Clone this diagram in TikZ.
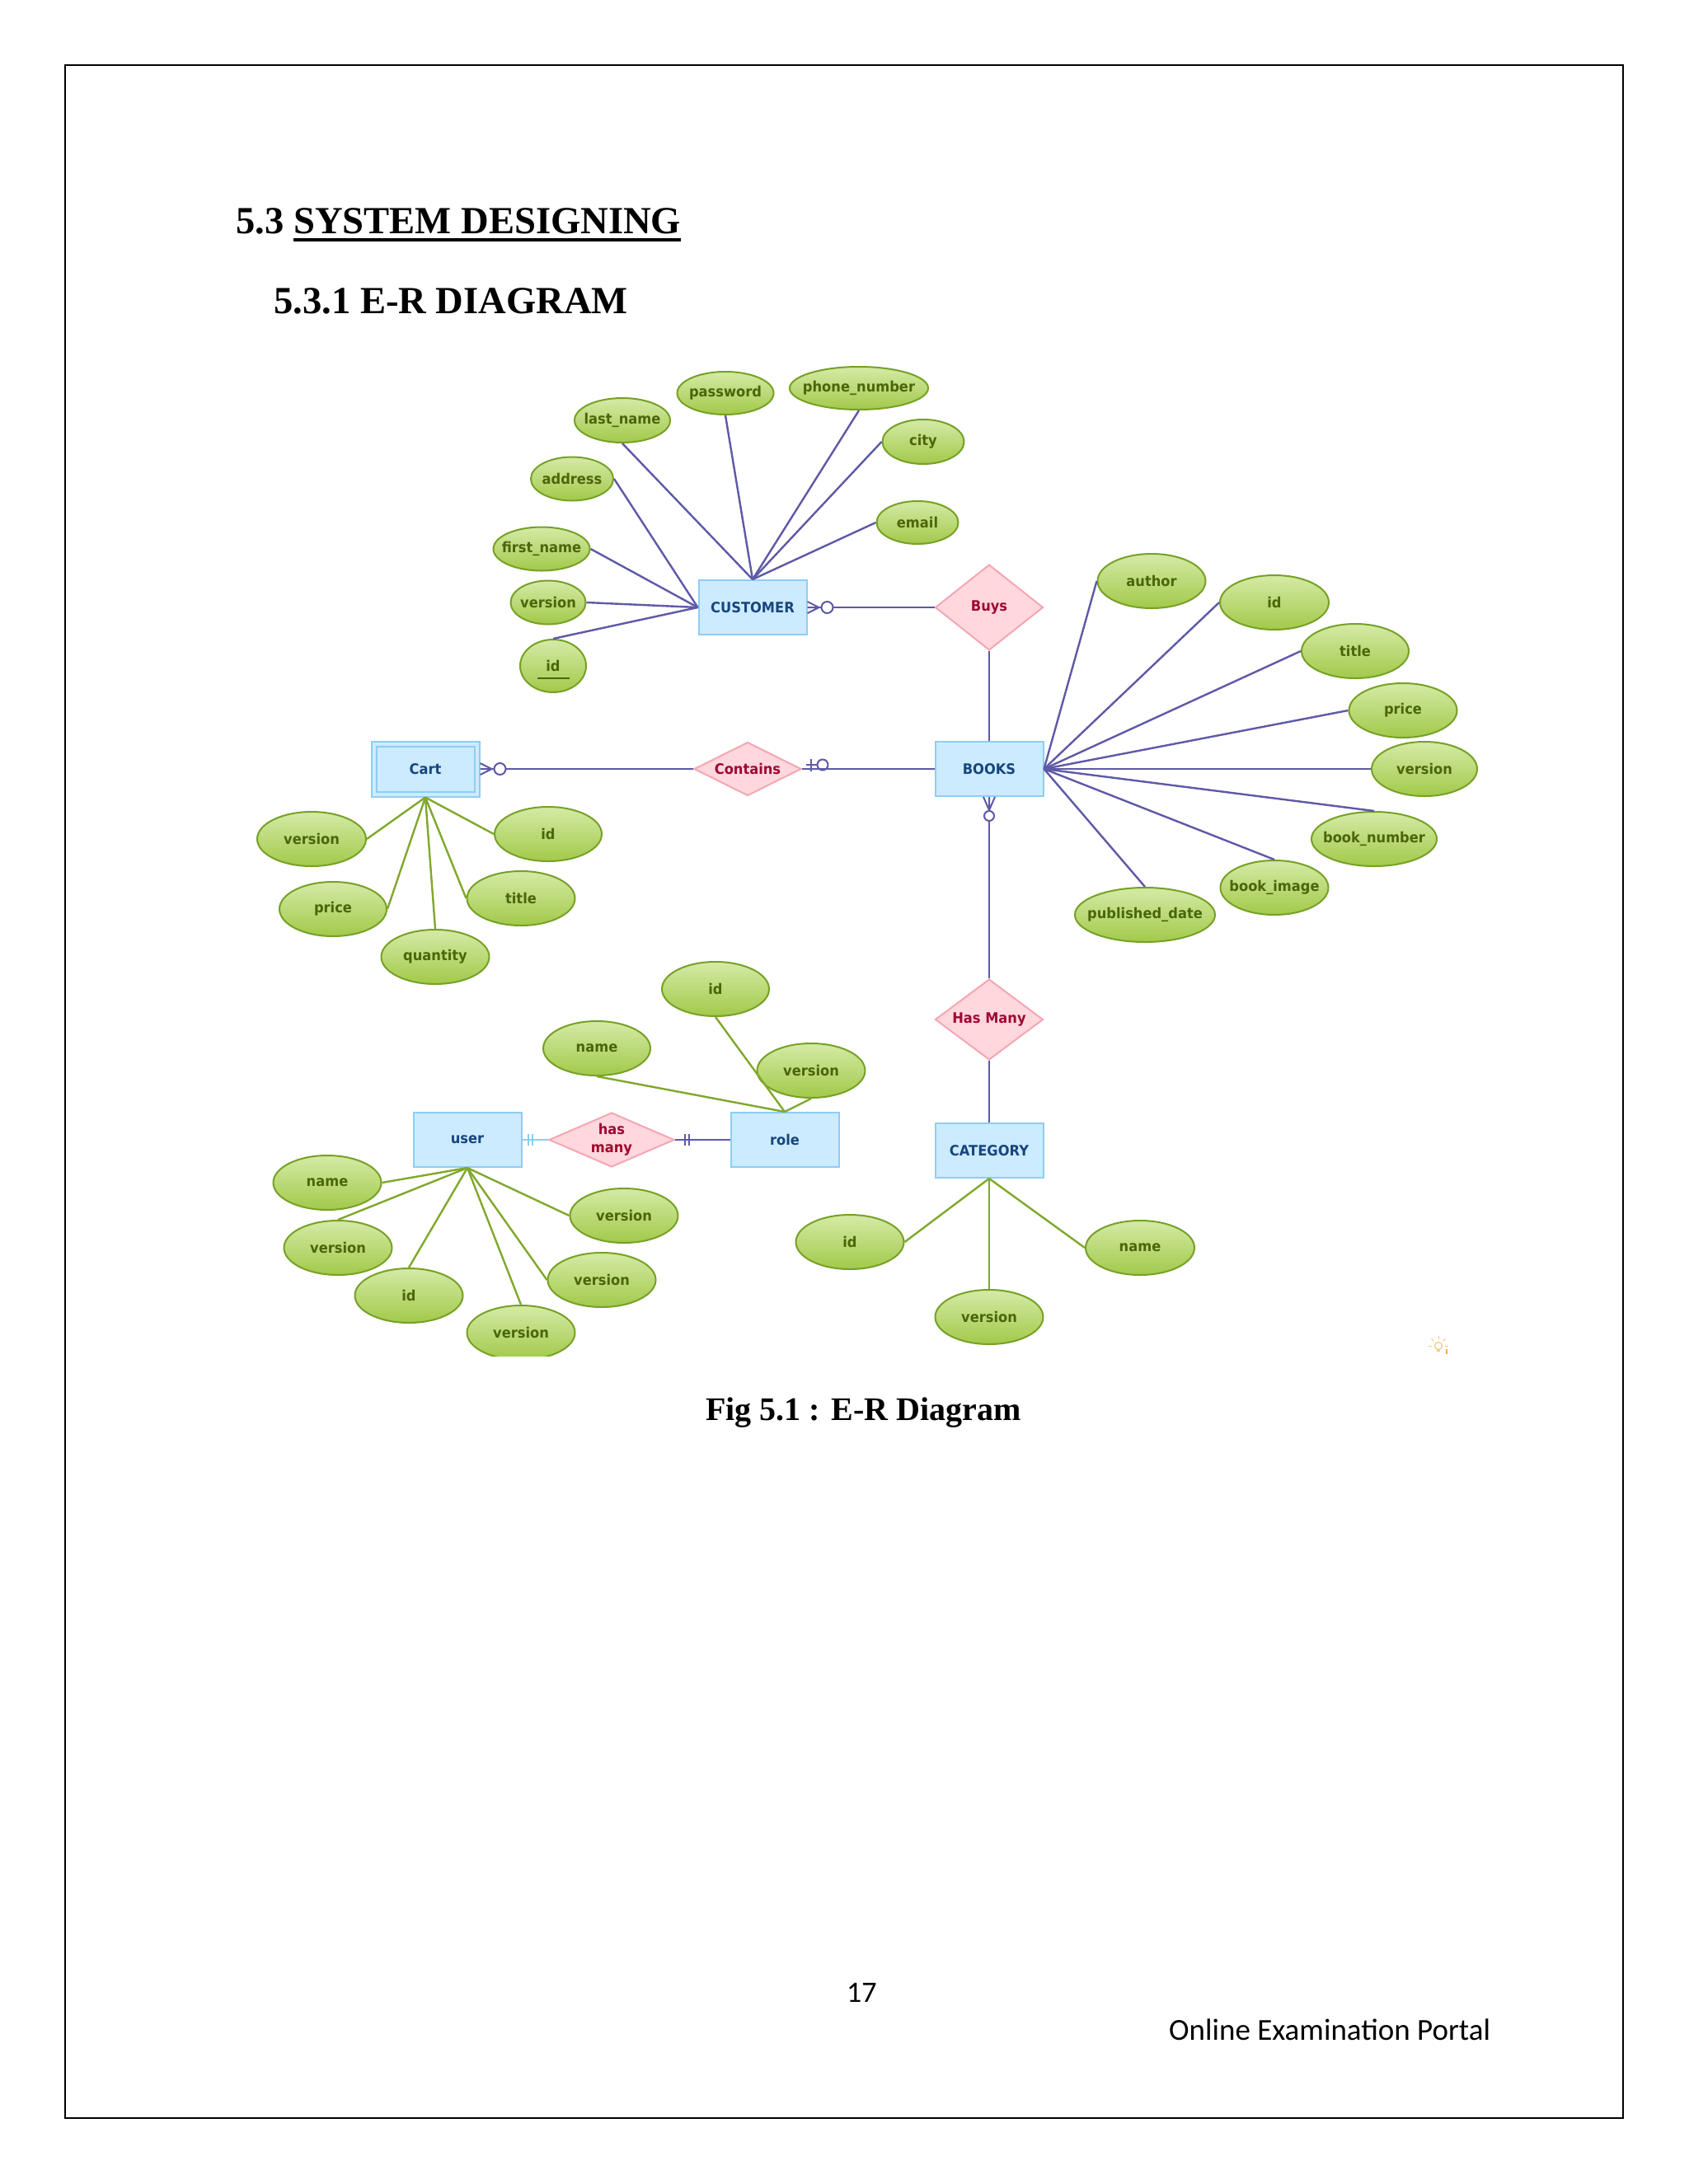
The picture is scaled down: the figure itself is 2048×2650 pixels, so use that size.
\documentclass[tikz,border=0pt]{standalone}
\usepackage{fontspec}
\setmainfont{Liberation Serif}
\newfontfamily\erfont[FakeStretch=0.93]{DejaVu Sans}
\newfontfamily\calfont{Carlito}
\usetikzlibrary{shapes.geometric,calc}
\definecolor{entF}{HTML}{CDEBFF}
\definecolor{entB}{HTML}{8ECDF6}
\definecolor{entT}{HTML}{16467E}
\definecolor{relF}{HTML}{FFD7DD}
\definecolor{relB}{HTML}{F4A7B3}
\definecolor{relT}{HTML}{A0062E}
\definecolor{attTop}{HTML}{D5EAA6}
\definecolor{attBot}{HTML}{A2C94A}
\definecolor{attB}{HTML}{76A125}
\definecolor{attT}{HTML}{4C650A}
\definecolor{purp}{HTML}{5E59A6}
\definecolor{grn}{HTML}{80A82C}
\definecolor{bulbc}{HTML}{F7C77A}
\begin{document}
\begin{tikzpicture}[x=1pt,y=-1pt,
  ent/.style={rectangle, draw=entB, fill=entF, line width=2pt, minimum width=131pt, minimum height=66pt, inner sep=0pt, text=entT, font=\erfont\bfseries\fontsize{17.5pt}{20pt}\selectfont},
  rel/.style={diamond, draw=relB, fill=relF, line width=2pt, inner sep=0pt},
  reltxt/.style={text=relT, font=\erfont\bfseries\fontsize{17.5pt}{22pt}\selectfont, align=center, inner sep=0pt},
  attr/.style={ellipse, draw=attB, line width=2pt, top color=attTop, bottom color=attBot, inner sep=0pt, minimum width=131pt, minimum height=66pt},
  atxt/.style={text=attT, font=\erfont\bfseries\fontsize{17.5pt}{20pt}\selectfont, inner sep=0pt},
  pline/.style={draw=purp, line width=2.4pt},
  gline/.style={draw=grn, line width=2.4pt},
  heading/.style={inner sep=0pt, anchor=base west, font=\bfseries\fontsize{46.6pt}{50pt}\selectfont},
]
\useasboundingbox (0,0) rectangle (2048,2650);
\fill[white] (0,0) rectangle (2048,2650);
\draw[line width=2pt] (79,79) rectangle (1969,2570);

% headings
\node[heading] (h1a) at (286,283) {5.3};
\node[heading] (h1b) at (356,283) {SYSTEM DESIGNING};
\draw[line width=4pt] ($(h1b.base west)+(0,8)$) -- ($(h1b.base east)+(0,8)$);
\node[heading] (h2) at (332,380) {5.3.1 E-R DIAGRAM};

\begin{scope}
\clip (240,400) rectangle (1793,1645);

% ---------- CUSTOMER ----------
\node[ent] (cust) at (913,737) {CUSTOMER};
\node[attr, minimum width=117pt, minimum height=52pt, label={[atxt]center:password}] (cpw) at (880,477) {};
\node[attr, minimum width=168pt, minimum height=52pt, label={[atxt]center:phone\_number}] (cph) at (1042,471) {};
\node[attr, minimum width=116pt, minimum height=54pt, label={[atxt]center:last\_name}] (cln) at (755,510) {};
\node[attr, minimum width=99pt, minimum height=54pt, label={[atxt]center:city}] (ccity) at (1120,536) {};
\node[attr, minimum width=100pt, minimum height=53pt, label={[atxt]center:address}] (caddr) at (694,581) {};
\node[attr, minimum width=99pt, minimum height=52pt, label={[atxt]center:email}] (cemail) at (1113,634) {};
\node[attr, minimum width=117pt, minimum height=53pt, label={[atxt]center:first\_name}] (cfn) at (657,666) {};
\node[attr, minimum width=91pt, minimum height=53pt, label={[atxt]center:version}] (cver) at (665,731) {};
\node[attr, minimum width=80pt, minimum height=64pt, label={[atxt]center:id}] (cidd) at (671,808) {};
\draw[draw=attT, line width=2pt] ($(cidd.center)+(-19,15)$) -- ($(cidd.center)+(20,15)$);

\foreach \n in {cln,cpw,cph} \draw[pline] (\n.south) -- (cust.north);
\draw[pline] (ccity.west) -- (cust.north);
\draw[pline] (cemail.west) -- (cust.north);
\foreach \n in {caddr,cfn,cver} \draw[pline] (\n.east) -- (cust.west);
\draw[pline] (cidd.north) -- (cust.west);

% ---------- BUYS / BOOKS ----------
\node[rel, minimum width=131pt, minimum height=104pt, label={[reltxt]center:Buys}] (buys) at (1200,737) {};
\node[ent] (books) at (1200,933) {BOOKS};
\node[attr, label={[atxt]center:author}] (bauth) at (1397,705) {};
\node[attr, minimum width=132pt, label={[atxt]center:id}] (bid) at (1546,731) {};
\node[attr, minimum width=130pt, label={[atxt]center:title}] (btitle) at (1644,790) {};
\node[attr, label={[atxt]center:price}] (bprice) at (1702,862) {};
\node[attr, minimum width=128pt, label={[atxt]center:version}] (bver) at (1728,933) {};
\node[attr, minimum width=152pt, label={[atxt]center:book\_number}] (bnum) at (1667,1018) {};
\node[attr, label={[atxt]center:book\_image}] (bimg) at (1546,1077) {};
\node[attr, minimum width=170pt, label={[atxt]center:published\_date}] (bpub) at (1389,1110) {};
\foreach \n in {bauth,bid,btitle,bprice,bver} \draw[pline] (\n.west) -- (books.east);
\foreach \n in {bnum,bimg,bpub} \draw[pline] (\n.north) -- (books.east);

\draw[pline] (cust.east) -- (buys.west);
\draw[pline, line width=2pt] (buys.south) -- (books.north);
% crow's foot + circle at CUSTOMER
\coordinate (cfa) at ($(cust.east)+(14,0)$);
\draw[pline, line width=2pt] (cfa) -- ($(cust.east)+(0,-7)$) (cfa) -- (cust.east) (cfa) -- ($(cust.east)+(0,7)$);
\draw[pline, line width=2pt, fill=white] ($(cust.east)+(24,0)$) circle[radius=7pt];

% ---------- CART / CONTAINS ----------
\node[ent, minimum height=67pt] (cart) at (516,933) {Cart};
\draw[draw=entB, line width=2pt] ($(cart.north west)+(7,7)$) rectangle ($(cart.south east)+(-7,-7)$);
\node[rel, minimum width=130pt, minimum height=65pt, label={[reltxt]center:Contains}] (contains) at (907,933) {};
\node[attr, minimum width=132pt, label={[atxt]center:version}] (tver) at (378,1018) {};
\node[attr, minimum width=130pt, label={[atxt]center:id}] (tid) at (665,1012) {};
\node[attr, minimum width=130pt, label={[atxt]center:price}] (tprice) at (404,1103) {};
\node[attr, label={[atxt]center:title}] (ttitle) at (632,1090) {};
\node[attr, label={[atxt]center:quantity}] (tqty) at (528,1161) {};
\draw[gline] (cart.south) -- (tver.east);
\draw[gline] (cart.south) -- (tid.west);
\draw[gline] (cart.south) -- (tprice.east);
\draw[gline] (cart.south) -- (ttitle.west);
\draw[gline] (cart.south) -- (tqty.north);

\draw[pline] (cart.east) -- (contains.west);
\draw[pline] (contains.east) -- (books.west);
\coordinate (cfb) at ($(cart.east)+(14,0)$);
\draw[pline, line width=2pt] (cfb) -- ($(cart.east)+(0,-7)$) (cfb) -- (cart.east) (cfb) -- ($(cart.east)+(0,7)$);
\draw[pline, line width=2pt, fill=white] ($(cart.east)+(24,0)$) circle[radius=7pt];
% zero-or-one mark at Contains
\draw[pline, line width=2pt] ($(contains.east)+(11,-12)$) -- ($(contains.east)+(11,3)$);
\draw[pline, line width=2pt] ($(contains.east)+(5,-5)$) -- ($(contains.east)+(18,-5)$);
\draw[pline, line width=2pt] ($(contains.east)+(25,-5)$) circle[radius=6.5pt];

% ---------- HAS MANY / CATEGORY ----------
\node[rel, minimum width=131pt, minimum height=98pt, label={[reltxt]center:Has Many}] (hasmany) at (1200,1237) {};
\node[ent] (cat) at (1200,1396) {CATEGORY};
\node[attr, label={[atxt]center:id}] (catid) at (1031,1507) {};
\node[attr, label={[atxt]center:version}] (catver) at (1200,1598) {};
\node[attr, minimum width=132pt, label={[atxt]center:name}] (catname) at (1383,1514) {};
\draw[pline, line width=2pt] (books.south) -- (hasmany.north);
\draw[pline, line width=2pt] (hasmany.south) -- (cat.north);
\draw[gline] (cat.south) -- (catid.east);
\draw[gline] (cat.south) -- (catver.north);
\draw[gline] (cat.south) -- (catname.west);
\coordinate (cfc) at ($(books.south)+(0,16)$);
\draw[pline, line width=2pt] (cfc) -- ($(books.south)+(-7,0)$) (cfc) -- (books.south) (cfc) -- ($(books.south)+(7,0)$);
\draw[pline, line width=2pt, fill=white] ($(books.south)+(0,23)$) circle[radius=6pt];

% ---------- USER / ROLE ----------
\node[ent] (user) at (567,1383) {user};
\node[rel, minimum width=152pt, minimum height=66pt, label={[reltxt]center:has\\many}] (hm2) at (742,1383) {};
\node[ent] (role) at (952,1383) {role};
\node[attr, minimum width=130pt, label={[atxt]center:id}] (rid) at (868,1200) {};
\node[attr, minimum width=130pt, label={[atxt]center:name}] (rname) at (724,1272) {};
\node[attr, label={[atxt]center:version}] (rver) at (984,1299) {};
\draw[gline] (role.north) -- (rname.south);
\draw[gline] (role.north) -- (rid.south);
\draw[gline] (role.north) -- (rver.south);

\node[attr, label={[atxt]center:name}] (uname) at (397,1435) {};
\node[attr, label={[atxt]center:version}] (uver1) at (410,1514) {};
\node[attr, label={[atxt]center:id}] (uid) at (496,1572) {};
\node[attr, label={[atxt]center:version}] (uver2) at (632,1617) {};
\node[attr, label={[atxt]center:version}] (uver3) at (730,1553) {};
\node[attr, label={[atxt]center:version}] (uver4) at (757,1475) {};
\draw[gline] (user.south) -- (uname.east);
\draw[gline] (user.south) -- (uver1.north);
\draw[gline] (user.south) -- (uid.north);
\draw[gline] (user.south) -- (uver2.north);
\draw[gline] (user.south) -- (uver3.west);
\draw[gline] (user.south) -- (uver4.west);

\draw[draw=entB, line width=2.4pt] (user.east) -- (hm2.west);
\draw[draw=entB, line width=2pt] ($(user.east)+(7,-7)$) -- ($(user.east)+(7,7)$);
\draw[draw=entB, line width=2pt] ($(user.east)+(12,-7)$) -- ($(user.east)+(12,7)$);
\draw[pline] (hm2.east) -- (role.west);
\draw[pline, line width=2pt] ($(hm2.east)+(12,-7)$) -- ($(hm2.east)+(12,7)$);
\draw[pline, line width=2pt] ($(hm2.east)+(17,-7)$) -- ($(hm2.east)+(17,7)$);

% faint bulb icon
\coordinate (bulb) at (1745,1633);
\draw[bulbc, line width=1.2pt] (bulb) circle[radius=4.5pt];
\foreach \a in {0,45,90,135,180} \draw[bulbc, line width=1pt] ($(bulb)+(\a:8pt)$) -- ($(bulb)+(\a:12pt)$);
\draw[bulbc, line width=1.2pt] ($(bulb)+(-2,6)$) -- ($(bulb)+(2,6)$);
\draw[orange!70, line width=1.5pt] (1755,1637) -- (1755,1643);
\end{scope}

% caption and footer
\node[inner sep=0pt, anchor=base west, font=\bfseries\fontsize{40pt}{44pt}\selectfont] (cap) at (856,1723) {Fig 5.1 : E-R Diagram};
\node[inner sep=0pt, anchor=base west, font=\calfont\fontsize{36pt}{40pt}\selectfont] (pg) at (1027,2429) {17};
\node[inner sep=0pt, anchor=base west, font=\calfont\fontsize{37pt}{40pt}\selectfont] (foot) at (1418,2475) {Online Examination Portal};
\end{tikzpicture}
\end{document}
